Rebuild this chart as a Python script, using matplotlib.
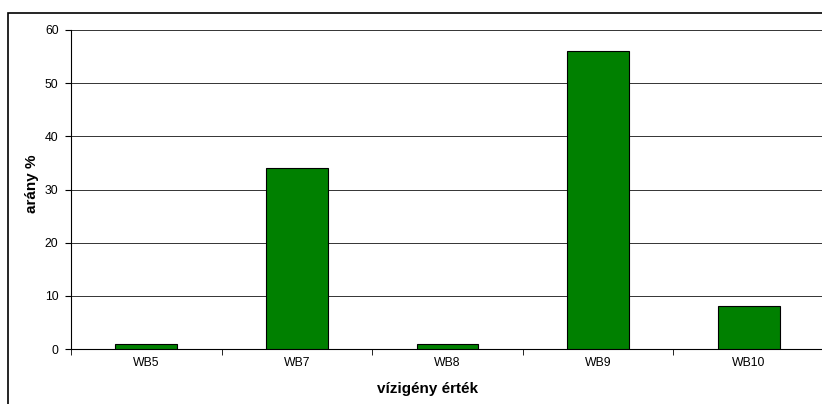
import numpy as np
import matplotlib.pyplot as plt
from matplotlib.patches import Rectangle

categories = ['WB5', 'WB7', 'WB8', 'WB9', 'WB10']
values = [1, 34, 1, 56, 8]

plt.rcParams['font.family'] = ['Liberation Sans', 'DejaVu Sans']

fig = plt.figure(figsize=(8.22, 4.04), dpi=100)
ax = fig.add_axes([71 / 822, 1 - 349 / 404, 753 / 822, 319 / 404])

index = np.arange(len(categories))
ax.bar(index, values, 0.41, color='#008000', edgecolor='black', linewidth=0.8, zorder=3)

ax.set_xlim(-0.5, len(categories) - 0.5)
ax.set_ylim(0, 60)
ax.set_yticks(range(0, 61, 10))
ax.yaxis.grid(True, color='#333333', linewidth=0.7, zorder=0)

ax.set_xticks(index)
ax.set_xticklabels(categories)
ax.set_xticks(np.arange(-0.5, len(categories), 1), minor=True)
ax.tick_params(axis='x', which='major', length=0, pad=6, labelsize=8.8)
ax.tick_params(axis='x', which='minor', length=4, direction='out')
ax.tick_params(axis='y', length=4, direction='out', labelsize=8.8, pad=5)

for side in ['top', 'right']:
    ax.spines[side].set_visible(False)
ax.spines['left'].set_linewidth(0.8)
ax.spines['bottom'].set_linewidth(0.8)

ax.set_xlabel('vízigény érték', fontsize=11, fontweight='bold')
ax.set_ylabel('arány %', fontsize=11, fontweight='bold')
ax.xaxis.set_label_coords((428 - 71) / 753, (349 - 382) / 319)
ax.yaxis.set_label_coords((39 - 71) / 753, (349 - 184) / 319)

fig.patches.append(Rectangle((8 / 822, -0.05), 1.0, 1 - 13 / 404 + 0.05, transform=fig.transFigure,
                             fill=False, edgecolor='black', linewidth=1.2, clip_on=False))

fig.savefig('out.png', dpi=100)
